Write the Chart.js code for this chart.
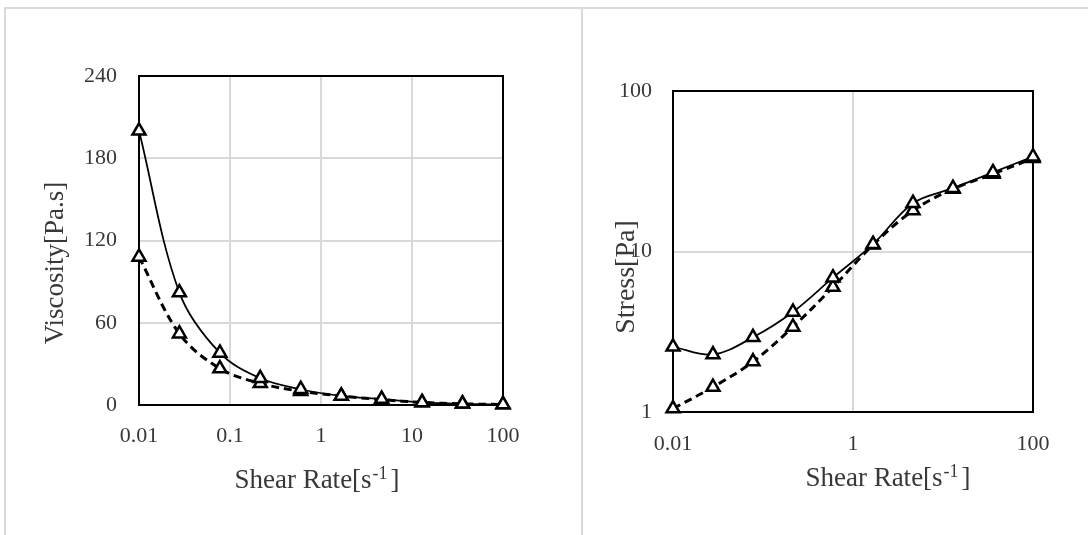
<!DOCTYPE html>
<html>
<head>
<meta charset="utf-8">
<title>Viscosity and stress vs shear rate</title>
<script src="https://cdn.jsdelivr.net/npm/chart.js@4.4.1/dist/chart.umd.min.js"></script>
<style>
    html, body { margin: 0; padding: 0; background: #fff; }
    body { width: 1088px; height: 535px; overflow: hidden; position: relative; }
    .frame { position: absolute; background: #d9d9d9; }
    canvas { position: absolute; top: 0; }
</style>
</head>
<body>
<div class="frame" style="left:4px; top:7px; width:1084px; height:2px"></div>
<div class="frame" style="left:4px; top:7px; width:2px; height:528px"></div>
<div class="frame" style="left:581px; top:7px; width:2px; height:528px"></div>
<canvas id="viscosityChart" width="582" height="535" style="left:0"></canvas>
<canvas id="stressChart" width="506" height="535" style="left:582px"></canvas>
<script>
const shearRate = [0.01, 0.0278, 0.0774, 0.215, 0.599, 1.67, 4.64, 12.9, 35.9, 100];

const viscositySolid = [200, 82, 38, 19.5, 11.5, 6.6, 4.3, 1.9, 0.87, 0.39];
const viscosityDashed = [108, 52, 26.6, 15.8, 10, 6.6, 3.9, 1.9, 0.85, 0.38];

const stressSolid = [2.55, 2.28, 2.92, 4.2, 6.87, 11.1, 20.0, 24.8, 31.1, 39.0];
const stressDashed = [1.05, 1.43, 2.06, 3.39, 6.0, 11.0, 18.0, 24.5, 30.4, 38.1];

const viscosityXTicks = [0.01, 0.1, 1, 10, 100];
const viscosityYTicks = [0, 60, 120, 180, 240];
const stressXTicks = [0.01, 1, 100];
const stressYTicks = [1, 10, 100];

const SERIF = '"Liberation Serif", "Times New Roman", serif';
const TEXT_COLOR = '#383838';

Chart.defaults.font.family = SERIF;

// black box round the plot area, drawn under the markers
const plotFrame = {
    id: 'plotFrame',
    beforeDatasetsDraw(chart) {
        const { ctx, chartArea: a } = chart;
        ctx.save();
        ctx.strokeStyle = '#000';
        ctx.lineWidth = 2;
        ctx.strokeRect(a.left, a.top, a.right - a.left, a.bottom - a.top);
        ctx.restore();
    }
};

// axis titles, the x one has a superscript unit
const axisTitles = {
    id: 'axisTitles',
    afterDraw(chart, args, opts) {
        const ctx = chart.ctx;
        const big = '27px ' + SERIF;
        const small = '18px ' + SERIF;
        ctx.save();
        ctx.fillStyle = TEXT_COLOR;
        ctx.textBaseline = 'alphabetic';
        ctx.textAlign = 'left';

        // "Shear Rate[s" + "-1" raised + "]"
        ctx.font = big;
        const main = 'Shear Rate[s';
        const wMain = ctx.measureText(main).width;
        const wEnd = ctx.measureText(']').width;
        ctx.font = small;
        const wSup = ctx.measureText('-1').width;
        const total = wMain + 1 + wSup + 3 + wEnd;
        let x = opts.xCenter - total / 2;
        const base = opts.xBase;
        ctx.font = big;
        ctx.fillText(main, x, base);
        x += wMain + 1;
        ctx.font = small;
        ctx.fillText('-1', x, base - 9);
        x += wSup + 3;
        ctx.font = big;
        ctx.fillText(']', x, base);

        ctx.font = opts.yFont + 'px ' + SERIF;
        ctx.translate(opts.yBase, opts.yCenter);
        ctx.rotate(-Math.PI / 2);
        ctx.textAlign = 'center';
        ctx.fillText(opts.yText, 0, 0);
        ctx.restore();
    }
};

const series = (values, dashed) => ({
    data: values.map((y, i) => ({ x: shearRate[i], y: y })),
    borderColor: '#000',
    borderWidth: dashed ? 3 : 1.75,
    borderDash: dashed ? [8, 5] : [],
    tension: 0.35,
    pointStyle: 'triangle',
    pointRadius: 7.5,
    pointBorderWidth: 2.5,
    pointBorderColor: '#000',
    pointBackgroundColor: '#fff',
    clip: false
});

const axis = (type, min, max, tickValues, fit, padding) => ({
    type: type,
    min: min,
    max: max,
    afterBuildTicks: scale => { scale.ticks = tickValues.map(v => ({ value: v })); },
    afterFit: fit,
    border: { display: false },
    grid: { color: '#d9d9d9', lineWidth: 2, drawTicks: false },
    ticks: {
        autoSkip: false,
        maxRotation: 0,
        padding: padding,
        color: TEXT_COLOR,
        font: { size: 22 },
        callback: v => String(v)
    }
});

const createChart = (canvasId, datasets, scales, padding, titles) => {
    new Chart(document.getElementById(canvasId), {
        type: 'line',
        data: { datasets: datasets },
        options: {
            responsive: false,
            animation: false,
            events: [],
            layout: { padding: padding },
            scales: scales,
            plugins: {
                legend: { display: false },
                tooltip: { enabled: false },
                axisTitles: titles
            }
        },
        plugins: [plotFrame, axisTitles]
    });
};

document.addEventListener('DOMContentLoaded', () => {
    createChart('viscosityChart',
        [series(viscositySolid, false), series(viscosityDashed, true)],
        {
            x: axis('logarithmic', 0.01, 100, viscosityXTicks, s => { s.height = 60; }, 18),
            y: axis('linear', 0, 240, viscosityYTicks, s => { s.width = 139; }, 22)
        },
        { left: 0, top: 76, right: 79, bottom: 70 },
        { xCenter: 317, xBase: 488, yBase: 63, yCenter: 263, yFont: 27, yText: 'Viscosity[Pa.s]' }
    );

    createChart('stressChart',
        [series(stressSolid, false), series(stressDashed, true)],
        {
            x: axis('logarithmic', 0.01, 100, stressXTicks, s => { s.height = 60; }, 19),
            y: axis('logarithmic', 1, 100, stressYTicks, s => { s.width = 91; }, 21)
        },
        { left: 0, top: 91, right: 55, bottom: 63 },
        { xCenter: 306, xBase: 486, yBase: 52, yCenter: 277, yFont: 28, yText: 'Stress[Pa]' }
    );
});
</script>
</body>
</html>
